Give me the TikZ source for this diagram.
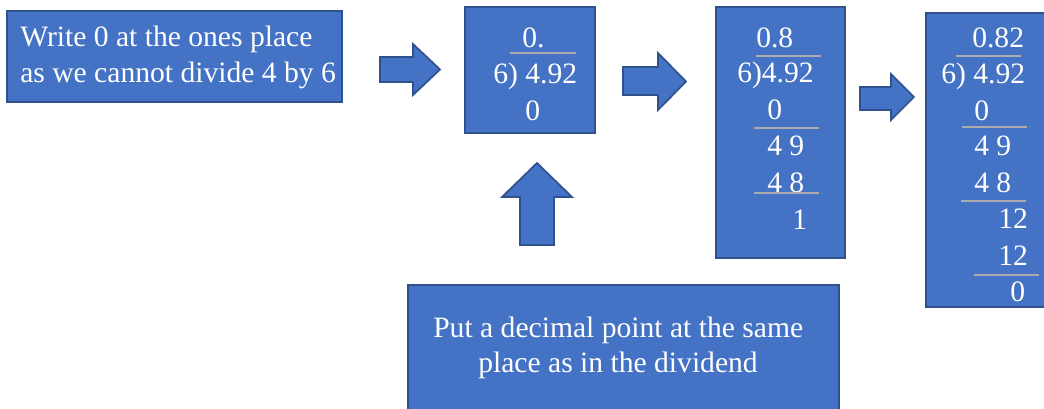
\documentclass[tikz,border=0pt]{standalone}
\usepackage{fontspec}
\setmainfont{Liberation Serif}
\usetikzlibrary{positioning}
\definecolor{BoxBlue}{RGB}{68,114,196}
\definecolor{EdgeBlue}{RGB}{47,82,143}
\definecolor{RuleGray}{RGB}{172,172,172}

\begin{document}
\begin{tikzpicture}[x=0.75pt,y=-0.75pt,
  box/.style={draw=EdgeBlue,fill=BoxBlue,line width=1.3pt,inner sep=0},
  txt/.style={white,anchor=base west,inner sep=0,font=\fontsize{22.2}{26}\selectfont},
  rule/.style={RuleGray,line width=0.9pt},
  blockarrow/.style={draw=EdgeBlue,fill=BoxBlue,line width=1.3pt,line join=miter}]
\useasboundingbox (0,0) rectangle (1044,408);
% boxes
\node[box,minimum width=251.25pt,minimum height=68.25pt] (hint) at (174.5,56.5) {};
\node[box,minimum width=97.5pt,minimum height=94.5pt] (stepA) at (530,70) {};
\node[box,minimum width=96.75pt,minimum height=188.25pt] (stepB) at (780.5,132.5) {};
\node[box,minimum width=112.5pt,minimum height=220.5pt] (stepC) at (1001,160) {};
\node[box,minimum width=323.25pt,minimum height=97.5pt] (note) at (623.5,350) {};
% block arrows
\draw[blockarrow] (380,57) -- (413,57) -- (413,44) -- (440,69.5) -- (413,95) -- (413,82) -- (380,82) -- cycle;
\draw[blockarrow] (623,67) -- (658,67) -- (658,53) -- (686,81.5) -- (658,110) -- (658,95) -- (623,95) -- cycle;
\draw[blockarrow] (860,87) -- (891,87) -- (891,74) -- (914,97) -- (891,120) -- (891,110) -- (860,110) -- cycle;
\draw[blockarrow] (520,245) -- (520,197) -- (502,197) -- (537,163) -- (572,197) -- (554,197) -- (554,245) -- cycle;
% texts
\node[txt] (hint1) at (20,46) {Write 0 at the ones place};
\node[txt] (hint2) at (20,82) {as we cannot divide 4 by 6};
\node[txt] (note1) at (433,337) {Put a decimal point at the same};
\node[txt] (note2) at (478,372) {place as in the dividend};
% first step
\node[txt] (qA) at (522,47) {0.};
\node[txt] (dA) at (493,83) {6) 4.92};
\node[txt] (sA) at (525,120) {0};
\draw[rule] (510,53) -- (576,53);
% second step
\node[txt] (qB) at (756,47) {0.8};
\node[txt] (dB) at (737,82) {6)4.92};
\node[txt] (sB1) at (767,119) {0};
\node[txt] (rB1) at (767,155) {4 9};
\node[txt] (sB2) at (767,192) {4 8};
\node[txt] (rB2) at (792,229) {1};
\draw[rule] (756,56) -- (821,56);
\draw[rule] (754,128) -- (819,128);
\draw[rule] (754,193) -- (819,193);
% third step
\node[txt] (qC) at (972,47) {0.82};
\node[txt] (dC) at (941,83) {6) 4.92};
\node[txt] (sC1) at (974,120) {0};
\node[txt] (rC1) at (974,155) {4 9};
\node[txt] (sC2) at (974,192) {4 8};
\node[txt] (rC2) at (998,228) {12};
\node[txt] (sC3) at (998,265) {12};
\node[txt] (rC3) at (1010,301) {0};
\draw[rule] (956,56) -- (1021,56);
\draw[rule] (962,127) -- (1027,127);
\draw[rule] (961,201) -- (1026,201);
\draw[rule] (974,275) -- (1039,275);
\end{tikzpicture}
\end{document}
